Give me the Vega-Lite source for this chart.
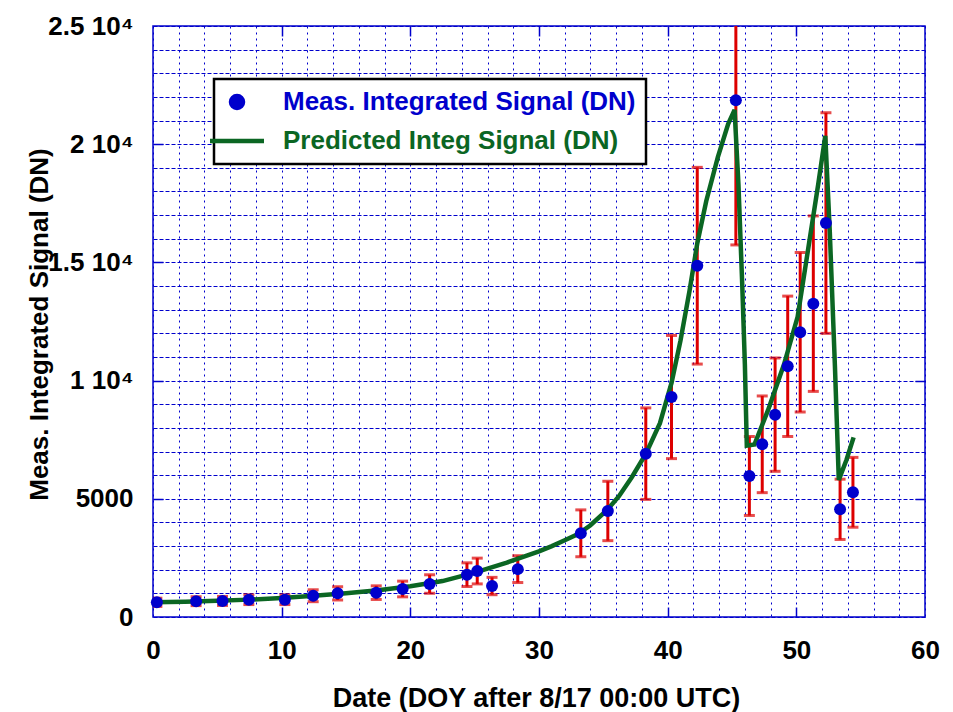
{
  "$schema": "https://vega.github.io/schema/vega-lite/v6.json",
  "width": 772,
  "height": 591,
  "autosize": "none",
  "padding": {"left": 153, "top": 26, "right": 28, "bottom": 95},
  "background": "white",
  "config": {
    "font": "Liberation Sans",
    "view": {"stroke": "#0000CC", "strokeWidth": 1.5},
    "axis": {
      "labelFont": "Liberation Sans",
      "titleFont": "Liberation Sans",
      "labelFontWeight": "bold",
      "titleFontWeight": "bold",
      "labelColor": "black",
      "titleColor": "black",
      "labelFlush": false,
      "labelOverlap": false,
      "labelBound": false,
      "domain": false,
      "ticks": false,
      "grid": false,
      "gridColor": "#0000CC",
      "gridWidth": 1,
      "gridOpacity": 1,
      "tickColor": "#0000CC",
      "tickWidth": 1.5
    },
    "legend": {
      "labelFont": "Liberation Sans",
      "labelFontWeight": "bold",
      "labelFontSize": 26,
      "fillColor": "white",
      "strokeColor": "black",
      "padding": 10
    }
  },
  "resolve": {"axis": {"x": "independent", "y": "independent"}},
  "datasets": {
    "meas": [
      {"x": 0.3, "y": 622, "lo": 448, "hi": 796, "series": "Meas. Integrated Signal (DN)"},
      {"x": 3.35, "y": 670, "lo": 482, "hi": 858, "series": "Meas. Integrated Signal (DN)"},
      {"x": 5.4, "y": 680, "lo": 490, "hi": 870, "series": "Meas. Integrated Signal (DN)"},
      {"x": 7.45, "y": 730, "lo": 526, "hi": 934, "series": "Meas. Integrated Signal (DN)"},
      {"x": 10.25, "y": 730, "lo": 526, "hi": 934, "series": "Meas. Integrated Signal (DN)"},
      {"x": 12.45, "y": 900, "lo": 648, "hi": 1152, "series": "Meas. Integrated Signal (DN)"},
      {"x": 14.35, "y": 1000, "lo": 720, "hi": 1280, "series": "Meas. Integrated Signal (DN)"},
      {"x": 17.35, "y": 1030, "lo": 742, "hi": 1318, "series": "Meas. Integrated Signal (DN)"},
      {"x": 19.4, "y": 1185, "lo": 853, "hi": 1517, "series": "Meas. Integrated Signal (DN)"},
      {"x": 21.5, "y": 1395, "lo": 1004, "hi": 1786, "series": "Meas. Integrated Signal (DN)"},
      {"x": 24.4, "y": 1790, "lo": 1289, "hi": 2291, "series": "Meas. Integrated Signal (DN)"},
      {"x": 25.2, "y": 1945, "lo": 1400, "hi": 2490, "series": "Meas. Integrated Signal (DN)"},
      {"x": 26.35, "y": 1310, "lo": 943, "hi": 1677, "series": "Meas. Integrated Signal (DN)"},
      {"x": 28.35, "y": 2025, "lo": 1458, "hi": 2592, "series": "Meas. Integrated Signal (DN)"},
      {"x": 33.25, "y": 3540, "lo": 2549, "hi": 4531, "series": "Meas. Integrated Signal (DN)"},
      {"x": 35.35, "y": 4485, "lo": 3229, "hi": 5741, "series": "Meas. Integrated Signal (DN)"},
      {"x": 38.3, "y": 6910, "lo": 4975, "hi": 8845, "series": "Meas. Integrated Signal (DN)"},
      {"x": 40.3, "y": 9305, "lo": 6700, "hi": 11910, "series": "Meas. Integrated Signal (DN)"},
      {"x": 42.3, "y": 14860, "lo": 10699, "hi": 19021, "series": "Meas. Integrated Signal (DN)"},
      {"x": 45.3, "y": 21860, "lo": 15739, "hi": 27981, "series": "Meas. Integrated Signal (DN)"},
      {"x": 46.35, "y": 5965, "lo": 4295, "hi": 7635, "series": "Meas. Integrated Signal (DN)"},
      {"x": 47.35, "y": 7305, "lo": 5260, "hi": 9350, "series": "Meas. Integrated Signal (DN)"},
      {"x": 48.35, "y": 8560, "lo": 6163, "hi": 10957, "series": "Meas. Integrated Signal (DN)"},
      {"x": 49.33, "y": 10605, "lo": 7636, "hi": 13574, "series": "Meas. Integrated Signal (DN)"},
      {"x": 50.3, "y": 12045, "lo": 8672, "hi": 15418, "series": "Meas. Integrated Signal (DN)"},
      {"x": 51.32, "y": 13255, "lo": 9544, "hi": 16966, "series": "Meas. Integrated Signal (DN)"},
      {"x": 52.3, "y": 16665, "lo": 11999, "hi": 21331, "series": "Meas. Integrated Signal (DN)"},
      {"x": 53.4, "y": 4555, "lo": 3280, "hi": 5830, "series": "Meas. Integrated Signal (DN)"},
      {"x": 54.4, "y": 5275, "lo": 3798, "hi": 6752, "series": "Meas. Integrated Signal (DN)"}
    ],
    "pred": [
      {"x": 0, "y": 625, "series": "Predicted Integ Signal (DN)"},
      {"x": 2.5, "y": 650, "series": "Predicted Integ Signal (DN)"},
      {"x": 5, "y": 685, "series": "Predicted Integ Signal (DN)"},
      {"x": 7.5, "y": 735, "series": "Predicted Integ Signal (DN)"},
      {"x": 10, "y": 805, "series": "Predicted Integ Signal (DN)"},
      {"x": 12.5, "y": 895, "series": "Predicted Integ Signal (DN)"},
      {"x": 15, "y": 1005, "series": "Predicted Integ Signal (DN)"},
      {"x": 17.5, "y": 1130, "series": "Predicted Integ Signal (DN)"},
      {"x": 20, "y": 1300, "series": "Predicted Integ Signal (DN)"},
      {"x": 22.5, "y": 1520, "series": "Predicted Integ Signal (DN)"},
      {"x": 25, "y": 1880, "series": "Predicted Integ Signal (DN)"},
      {"x": 27.5, "y": 2300, "series": "Predicted Integ Signal (DN)"},
      {"x": 30, "y": 2780, "series": "Predicted Integ Signal (DN)"},
      {"x": 31, "y": 3000, "series": "Predicted Integ Signal (DN)"},
      {"x": 32, "y": 3250, "series": "Predicted Integ Signal (DN)"},
      {"x": 33, "y": 3500, "series": "Predicted Integ Signal (DN)"},
      {"x": 34, "y": 3880, "series": "Predicted Integ Signal (DN)"},
      {"x": 35.3, "y": 4530, "series": "Predicted Integ Signal (DN)"},
      {"x": 36.2, "y": 5100, "series": "Predicted Integ Signal (DN)"},
      {"x": 37.2, "y": 5900, "series": "Predicted Integ Signal (DN)"},
      {"x": 38.3, "y": 6900, "series": "Predicted Integ Signal (DN)"},
      {"x": 39.4, "y": 8200, "series": "Predicted Integ Signal (DN)"},
      {"x": 40.3, "y": 9900, "series": "Predicted Integ Signal (DN)"},
      {"x": 41.0, "y": 11700, "series": "Predicted Integ Signal (DN)"},
      {"x": 41.7, "y": 13800, "series": "Predicted Integ Signal (DN)"},
      {"x": 42.3, "y": 15800, "series": "Predicted Integ Signal (DN)"},
      {"x": 43.0, "y": 17600, "series": "Predicted Integ Signal (DN)"},
      {"x": 43.9, "y": 19450, "series": "Predicted Integ Signal (DN)"},
      {"x": 44.7, "y": 20850, "series": "Predicted Integ Signal (DN)"},
      {"x": 45.2, "y": 21450, "series": "Predicted Integ Signal (DN)"},
      {"x": 45.5, "y": 18300, "series": "Predicted Integ Signal (DN)"},
      {"x": 45.8, "y": 14000, "series": "Predicted Integ Signal (DN)"},
      {"x": 46.0, "y": 10700, "series": "Predicted Integ Signal (DN)"},
      {"x": 46.15, "y": 7250, "series": "Predicted Integ Signal (DN)"},
      {"x": 46.75, "y": 7300, "series": "Predicted Integ Signal (DN)"},
      {"x": 47.8, "y": 8750, "series": "Predicted Integ Signal (DN)"},
      {"x": 49.05, "y": 10700, "series": "Predicted Integ Signal (DN)"},
      {"x": 50.1, "y": 12700, "series": "Predicted Integ Signal (DN)"},
      {"x": 50.9, "y": 15500, "series": "Predicted Integ Signal (DN)"},
      {"x": 51.7, "y": 18300, "series": "Predicted Integ Signal (DN)"},
      {"x": 52.25, "y": 20350, "series": "Predicted Integ Signal (DN)"},
      {"x": 52.6, "y": 16300, "series": "Predicted Integ Signal (DN)"},
      {"x": 53.0, "y": 10600, "series": "Predicted Integ Signal (DN)"},
      {"x": 53.3, "y": 5800, "series": "Predicted Integ Signal (DN)"},
      {"x": 53.9, "y": 6650, "series": "Predicted Integ Signal (DN)"},
      {"x": 54.45, "y": 7600, "series": "Predicted Integ Signal (DN)"}
    ]
  },
  "layer": [
    {
      "data": {"name": "meas"},
      "mark": {"type": "rule", "color": "#DD0000", "strokeWidth": 3, "clip": true},
      "encoding": {
        "x": {
          "field": "x", "type": "quantitative",
          "scale": {"domain": [0, 60], "nice": false, "zero": false},
          "axis": {
            "orient": "bottom",
            "title": null,
            "labels": false,
            "ticks": false,
            "grid": true,
            "tickCount": 100,
            "values": [0, 2, 4, 6, 8, 10, 12, 14, 16, 18, 20, 22, 24, 26, 28, 30, 32, 34, 36, 38, 40, 42, 44, 46, 48, 50, 52, 54, 56, 58, 60],
            "gridDash": [2, 4]
          }
        },
        "y": {
          "field": "lo", "type": "quantitative",
          "scale": {"domain": [0, 25000], "nice": false},
          "axis": {
            "orient": "left",
            "title": null,
            "labels": false,
            "ticks": false,
            "grid": true,
            "tickCount": 100,
            "values": [0, 1000, 2000, 3000, 4000, 5000, 6000, 7000, 8000, 9000, 10000, 11000, 12000, 13000, 14000, 15000, 16000, 17000, 18000, 19000, 20000, 21000, 22000, 23000, 24000, 25000],
            "gridDash": [4, 2]
          }
        },
        "y2": {"field": "hi"}
      }
    },
    {
      "data": {"name": "meas"},
      "mark": {"type": "tick", "color": "#DD0000", "thickness": 3, "size": 11, "orient": "horizontal", "clip": true},
      "encoding": {
        "x": {
          "field": "x", "type": "quantitative",
          "axis": {
            "orient": "bottom",
            "grid": false,
            "ticks": false,
            "format": "d",
            "title": "Date (DOY after 8/17 00:00 UTC)",
            "values": [0, 10, 20, 30, 40, 50, 60],
            "labelFontSize": 26,
            "labelPadding": 20,
            "titleFontSize": 27,
            "titleBaseline": "alphabetic",
            "titleY": 89,
            "titleX": 383
          }
        },
        "y": {
          "field": "lo", "type": "quantitative",
          "axis": {
            "orient": "left",
            "grid": false,
            "ticks": false,
            "title": "Meas. Integrated Signal (DN)",
            "values": [0, 5000, 10000, 15000, 20000, 25000],
            "labelExpr": "datum.value === 0 ? '0' : datum.value === 5000 ? '5000' : (datum.value / 10000) + ' 10⁴'",
            "labelFontSize": 26,
            "labelPadding": 20,
            "titleFontSize": 26,
            "titleBaseline": "alphabetic",
            "titleX": -106,
            "titleY": 298
          }
        }
      }
    },
    {
      "data": {"name": "meas"},
      "mark": {"type": "tick", "color": "#DD0000", "thickness": 3, "size": 11, "orient": "horizontal", "clip": true},
      "encoding": {
        "x": {
          "field": "x", "type": "quantitative",
          "axis": {"orient": "top", "title": null, "labels": false, "grid": false, "ticks": true, "tickSize": -10, "values": [10, 20, 30, 40, 50]}
        },
        "y": {
          "field": "hi", "type": "quantitative",
          "axis": {"orient": "right", "title": null, "labels": false, "grid": false, "ticks": true, "tickSize": -10, "values": [5000, 10000, 15000, 20000]}
        }
      }
    },
    {
      "data": {"name": "pred"},
      "mark": {"type": "line", "strokeWidth": 4.5, "interpolate": "linear", "clip": true},
      "encoding": {
        "x": {
          "field": "x", "type": "quantitative",
          "axis": {"orient": "bottom", "title": null, "labels": false, "grid": false, "ticks": true, "tickSize": -10, "values": [10, 20, 30, 40, 50]}
        },
        "y": {
          "field": "y", "type": "quantitative",
          "axis": {"orient": "left", "title": null, "labels": false, "grid": false, "ticks": true, "tickSize": -10, "values": [5000, 10000, 15000, 20000]}
        },
        "color": {
          "field": "series", "type": "nominal",
          "scale": {"domain": ["Meas. Integrated Signal (DN)", "Predicted Integ Signal (DN)"], "range": ["#0000CC", "#0B6623"]},
          "legend": {
            "title": null,
            "orient": "none",
            "legendX": 61,
            "legendY": 53,
            "symbolSize": 144,
            "labelOffset": 33,
            "rowPadding": 11,
            "labelLimit": 600,
            "encode": {
              "symbols": {"update": {
                "shape": {"signal": "datum.value === 'Predicted Integ Signal (DN)' ? 'M-4.5,0L4.5,0' : 'circle'"},
                "size": {"value": 144},
                "fill": {"signal": "datum.value === 'Predicted Integ Signal (DN)' ? 'transparent' : '#0000CC'"},
                "stroke": {"signal": "datum.value === 'Predicted Integ Signal (DN)' ? '#0B6623' : 'transparent'"},
                "strokeWidth": {"value": 4.5},
                "opacity": {"value": 1}
              }},
              "labels": {"update": {
                "fill": {"signal": "datum.value === 'Predicted Integ Signal (DN)' ? '#0B6623' : '#0000CC'"}
              }},
              "legend": {"update": {
                "stroke": {"value": "black"},
                "strokeWidth": {"value": 2.5}
              }}
            }
          }
        }
      }
    },
    {
      "data": {"name": "meas"},
      "mark": {"type": "point", "filled": true, "size": 144, "opacity": 1, "shape": "circle"},
      "encoding": {
        "x": {"field": "x", "type": "quantitative", "axis": null},
        "y": {"field": "y", "type": "quantitative", "axis": null},
        "color": {"field": "series", "type": "nominal"}
      }
    }
  ]
}
